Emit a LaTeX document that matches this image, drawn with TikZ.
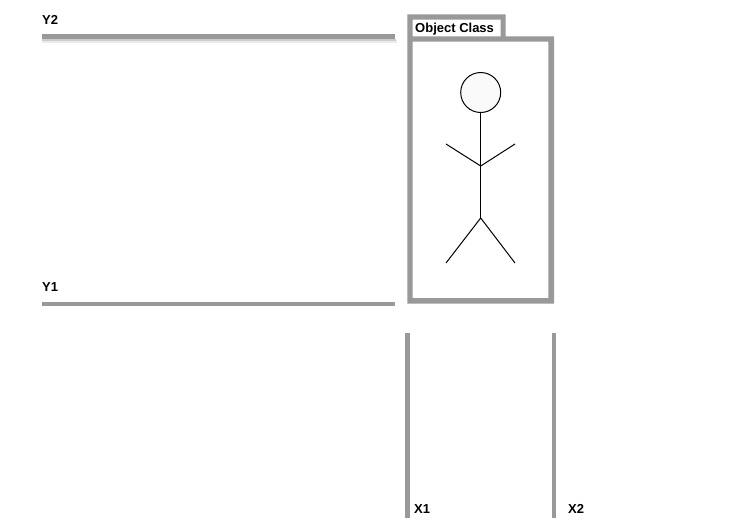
\documentclass[tikz,border=0pt]{standalone}
\usepackage{fontspec}
\setmainfont{Liberation Sans}
\definecolor{framegray}{RGB}{153,153,153}
\tikzset{
  x=1pt,y=-1pt,
  lab/.style={font=\bfseries\fontsize{13}{15}\selectfont,inner sep=0pt,anchor=base west,text=black},
  guide/.style={fill=framegray,draw=none},
  stick/.style={draw=black,line width=1pt},
}
\begin{document}
\begin{tikzpicture}
\useasboundingbox (0,0) rectangle (737,531);
\fill[white] (0,0) rectangle (737,531);
% guide lines, Y2 with its soft shadow
\fill[framegray!20] (42,40) rectangle (397,42.5);
\fill[framegray!50] (42,38.5) rectangle (396,40.5);
\fill[guide] (42,34.3) rectangle (395,39);
\fill[guide] (42,301.7) rectangle (395,306.3);
\fill[guide] (405,332.7) rectangle (409.7,517.5);
\fill[guide] (551.7,332.7) rectangle (556,517.5);
% frame
\fill[guide,even odd rule] (407.3,14.3) -- (505.5,14.3) -- (505.5,36.3) -- (554,36.3) -- (554,303.7) -- (407.3,303.7) -- cycle
  (412.7,41.7) rectangle (548.3,298)
  (412.7,19.7) rectangle (500.7,36.3);
\node[lab] (title) at (415,32) {Object Class};
\node[lab] (y2) at (42,24) {Y2};
\node[lab] (y1) at (42,291) {Y1};
\node[lab] (x1) at (414,513) {X1};
\node[lab] (x2) at (568,513) {X2};
% figure
\node[circle,draw=black,line width=1pt,fill=white!98!black,minimum size=40pt,inner sep=0pt] (head) at (480.7,92.5) {};
\coordinate (hip) at (480.7,218);
\coordinate (waist) at (480.7,166);
\coordinate (lh) at (446,144);
\coordinate (rh) at (515,144);
\coordinate (lf) at (446,263);
\coordinate (rf) at (515,263);
\draw[stick] (head.south) -- (waist) -- (hip);
\draw[stick] (lh) -- (waist) -- (rh);
\draw[stick] (lf) -- (hip) -- (rf);
\end{tikzpicture}
\end{document}
